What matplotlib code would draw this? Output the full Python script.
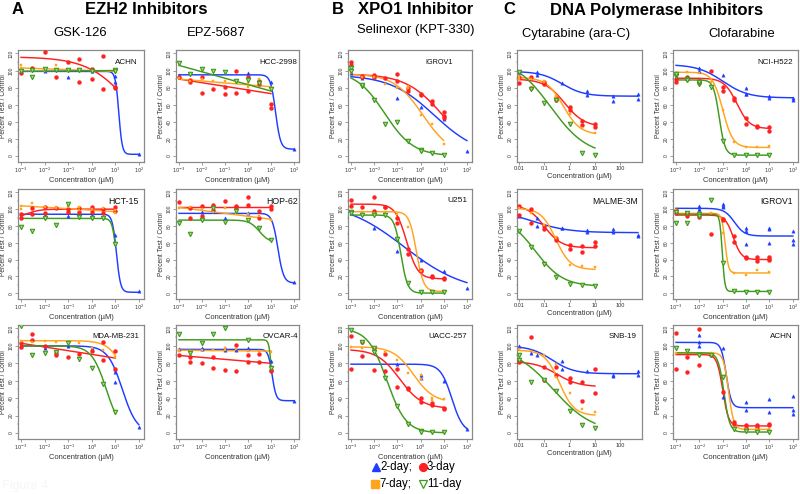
import numpy as np
import matplotlib
matplotlib.use("Agg")
import matplotlib.pyplot as plt
from matplotlib.ticker import FixedLocator, NullFormatter, LogLocator

plt.rcParams['font.family'] = ['Liberation Sans', 'DejaVu Sans']

SERIES = ['2d', '3d', '7d', '11d']
LEGEND_LABELS = ['2-day;', '3-day', '7-day;', '11-day']

# ---------------- data: points (concentration uM, percent test/control) ----------------
# fits: (top, bottom, logEC50, hill) for 4-parameter logistic, or (y_start, y_end) for a straight trend line
# Row 1
gsk_achn_pts = {
    '2d': [(1e-3, 99), (1e-2, 100), (1e-1, 92), (1, 100), (10, 94), (10, 87), (100, 2)],
    '3d': [(1e-3, 97), (3e-3, 103), (1e-2, 122), (3e-2, 92), (1e-1, 110), (3e-1, 113), (3e-1, 86),
           (1, 102), (1, 90), (3, 117), (3, 78), (10, 79), (10, 81)],
    '7d': [(1e-3, 106), (1e-3, 103), (3e-3, 100), (1e-2, 99), (3e-2, 106), (1e-1, 100), (3e-1, 101), (1, 99), (10, 98)],
    '11d': [(1e-3, 99), (3e-3, 93), (3e-3, 101), (1e-2, 102), (3e-2, 101), (1e-1, 101), (3e-1, 101), (1, 100), (10, 101), (10, 99)],
}
gsk_achn_fit = {'2d': (99, 2, 1.15, 6), '3d': (116, 0, 1.72, 0.48), '7d': (103, 99), '11d': (99, 100)}

epz_hcc2998_pts = {
    '2d': [(1e-3, 95), (1, 97), (10, 86), (100, 8)],
    '3d': [(1e-3, 93), (3e-3, 86), (3e-3, 89), (1e-2, 74), (1e-2, 93), (3e-2, 78), (1e-1, 72), (1e-1, 81),
           (3e-1, 74), (3e-1, 100), (1, 93), (1, 76), (3, 84), (3, 88), (10, 61), (10, 56)],
    '7d': [(1e-3, 91), (3e-3, 88), (1e-2, 90), (3e-2, 88), (1e-1, 88), (3e-1, 87), (1, 85), (1, 81), (3, 90), (10, 80)],
    '11d': [(1e-3, 109), (3e-3, 96), (1e-2, 102), (3e-2, 99), (1e-1, 98), (3e-1, 88), (1, 89), (3, 85), (10, 78)],
}
epz_hcc2998_fit = {'2d': (95, 8, 1.2, 4), '3d': (90, 73), '7d': (90, 81), '11d': (106, 76)}

sel_igrov1_pts = {
    '2d': [(1e-3, 97), (3e-3, 91), (1e-2, 92), (1e-1, 68), (1, 57), (10, 43), (100, 6)],
    '3d': [(1e-3, 110), (1e-3, 106), (3e-3, 94), (3e-3, 92), (1e-2, 93), (1e-2, 95), (3e-2, 91), (1e-1, 96), (1e-1, 88),
           (3e-1, 80), (3e-1, 76), (1, 73), (1, 71), (3, 64), (3, 61), (10, 51), (10, 47), (10, 44)],
    '7d': [(1e-3, 99), (1e-3, 97), (3e-3, 93), (1e-2, 92), (3e-2, 84), (1e-1, 80), (3e-1, 79), (3e-1, 82), (1, 48), (3, 37), (10, 14)],
    '11d': [(1e-3, 103), (1e-3, 99), (3e-3, 82), (3e-3, 83), (1e-2, 65), (3e-2, 38), (1e-1, 40), (3e-1, 18), (1, 7), (1, 6), (3, 3), (10, 1)],
}
sel_igrov1_fit = {'2d': (95, 0, 0.6, 0.45), '3d': (96, 0, 0.95, 0.55), '7d': (96, 0, 0.1, 0.7), '11d': (100, 0, -1.55, 0.7)}

cyt_h522_pts = {
    '2d': [(0.01, 98), (0.05, 95), (0.05, 98), (0.5, 85), (5, 76), (5, 71), (50, 70), (50, 64), (500, 73), (500, 67)],
    '3d': [(0.01, 93), (0.01, 85), (0.03, 92), (0.03, 79), (0.1, 86), (0.1, 84), (0.3, 66), (0.3, 68), (1, 57), (1, 54),
           (3, 41), (3, 36), (10, 38), (10, 34)],
    '7d': [(0.01, 92), (0.01, 90), (0.03, 90), (0.1, 88), (0.1, 86), (0.3, 70), (0.3, 69), (1, 49), (3, 33), (10, 27)],
    '11d': [(0.01, 98), (0.03, 78), (0.1, 62), (0.3, 65), (1, 37), (3, 4), (10, 1)],
}
cyt_h522_fit = {'2d': (99, 70, -0.3, 1.0), '3d': (90, 34, -0.2, 1.1), '7d': (92, 25, -0.25, 1.3), '11d': (115, 0, -0.75, 0.6)}

clo_h522_pts = {
    '2d': [(1e-2, 103), (1e-2, 99), (1e-1, 95), (1, 80), (1, 73), (1, 72), (10, 70), (10, 68), (100, 68), (100, 66)],
    '3d': [(1e-3, 86), (1e-3, 90), (3e-3, 90), (3e-3, 92), (1e-2, 85), (1e-2, 88), (3e-2, 99), (1e-1, 81), (1e-1, 76),
           (3e-1, 68), (3e-1, 66), (1, 44), (1, 37), (3, 34), (3, 35), (10, 34), (10, 29)],
    '7d': [(1e-3, 97), (3e-3, 98), (1e-2, 97), (3e-2, 87), (1e-1, 54), (3e-1, 16), (1, 11), (3, 11), (10, 12)],
    '11d': [(1e-3, 94), (1e-3, 96), (3e-3, 90), (3e-3, 89), (1e-2, 84), (1e-2, 86), (3e-2, 81), (1e-1, 18), (3e-1, 1),
            (1, 1), (3, 1), (10, 1)],
}
clo_h522_fit = {'2d': (107, 68, -1.0, 0.8), '3d': (91, 32, -0.4, 1.6), '7d': (98, 10, -1.0, 2.0), '11d': (89, 1, -1.15, 3.5)}

# Row 2
gsk_hct15_pts = {
    '2d': [(1e-3, 94), (1e-2, 93), (1e-1, 92), (1, 93), (10, 69), (100, 2)],
    '3d': [(1e-3, 94), (1e-3, 90), (3e-3, 101), (3e-3, 94), (1e-2, 102), (1e-2, 95), (3e-2, 101), (1e-1, 100), (1e-1, 97),
           (3e-1, 101), (3e-1, 97), (1, 103), (1, 97), (3, 100), (3, 96), (10, 103), (10, 98)],
    '7d': [(1e-3, 104), (1e-3, 100), (3e-3, 107), (1e-2, 103), (3e-2, 103), (3e-2, 101), (1e-1, 102), (3e-1, 103),
           (3e-1, 99), (1, 100), (3, 101), (10, 95), (10, 99)],
    '11d': [(1e-3, 79), (3e-3, 74), (1e-2, 90), (3e-2, 81), (1e-1, 106), (3e-1, 91), (1, 90), (3, 89), (10, 58)],
}
gsk_hct15_fit = {'2d': (94, 1, 1.05, 5), '3d': (88, 100, -2.8, 1.5), '7d': (104, 97), '11d': (89, 0, 1.05, 5)}

epz_hop62_pts = {
    '2d': [(1e-2, 97), (1e-1, 90), (1, 96), (100, 13)],
    '3d': [(1e-3, 108), (3e-3, 101), (3e-3, 90), (1e-2, 104), (1e-2, 92), (3e-2, 105), (3e-2, 99), (1e-1, 110),
           (3e-1, 103), (3e-1, 104), (1, 115), (1, 105), (3, 98), (3, 90), (10, 104), (10, 100)],
    '7d': [(1e-3, 101), (3e-3, 102), (1e-2, 100), (3e-2, 97), (1e-1, 101), (3e-1, 96), (1, 94), (3, 92), (10, 87)],
    '11d': [(1e-3, 84), (3e-3, 71), (1e-2, 87), (3e-2, 101), (1e-1, 85), (3e-1, 98), (1, 87), (3, 77), (10, 63)],
}
epz_hop62_fit = {'2d': (95, 12, 1.3, 3.5), '3d': (102.5, 102.5), '7d': (102, 88), '11d': (87, 60, 0.5, 2)}

sel_u251_pts = {
    '2d': [(1e-3, 95), (1e-2, 78), (1e-1, 50), (1, 40), (10, 26), (100, 6)],
    '3d': [(1e-3, 111), (1e-3, 104), (3e-3, 102), (1e-2, 114), (1e-2, 98), (3e-2, 103), (3e-2, 102), (1e-1, 89), (1e-1, 84),
           (3e-1, 53), (3e-1, 47), (1, 27), (1, 26), (3, 20), (3, 19), (10, 18), (10, 17)],
    '7d': [(1e-3, 97), (3e-3, 97), (1e-2, 96), (3e-2, 97), (1e-1, 94), (3e-1, 79), (1, 26), (3, 3), (10, 3)],
    '11d': [(1e-3, 97), (1e-3, 95), (3e-3, 93), (1e-2, 93), (3e-2, 93), (1e-1, 65), (3e-1, 12), (1, 1), (3, 1), (10, 1)],
}
sel_u251_fit = {'2d': (110, 0, -0.7, 0.33), '3d': (106, 17, -0.6, 1.8), '7d': (97, 2, -0.18, 2.8), '11d': (93, 0, -0.85, 3)}

cyt_malme_pts = {
    '2d': [(0.01, 92), (0.05, 80), (0.05, 90), (0.5, 77), (0.5, 78), (5, 75), (5, 73), (50, 76), (50, 73), (500, 69), (500, 68)],
    '3d': [(0.01, 104), (0.01, 93), (0.03, 100), (0.03, 84), (0.1, 76), (0.1, 80), (0.3, 66), (0.3, 63), (1, 57), (1, 52),
           (3, 56), (3, 49), (10, 61), (10, 56)],
    '7d': [(0.01, 101), (0.03, 95), (0.1, 81), (0.3, 67), (0.3, 66), (1, 33), (3, 32), (10, 31)],
    '11d': [(0.01, 74), (0.03, 55), (0.1, 35), (0.3, 19), (1, 11), (3, 10), (10, 9)],
}
cyt_malme_fit = {'2d': (100, 72, -1.5, 0.6), '3d': (105, 54, -1.0, 1.3), '7d': (101, 28, -0.55, 1.5), '11d': (92, 8, -1.35, 0.8)}

clo_igrov1_pts = {
    '2d': [(1e-3, 100), (1e-3, 97), (1e-2, 104), (1e-2, 100), (1e-2, 98), (1e-1, 106), (1e-1, 104), (1e-1, 102),
           (1, 78), (1, 74), (1, 58), (10, 78), (10, 76), (10, 60), (100, 74), (100, 63), (100, 59)],
    '3d': [(1e-3, 99), (1e-3, 95), (3e-3, 95), (3e-3, 92), (1e-2, 93), (1e-2, 91), (3e-2, 70), (1e-1, 88), (1e-1, 87),
           (3e-1, 68), (3e-1, 61), (1, 43), (1, 42), (3, 43), (3, 38), (10, 43), (10, 41), (10, 39)],
    '7d': [(1e-3, 99), (1e-2, 96), (3e-2, 96), (1e-1, 72), (3e-1, 24), (1, 22), (3, 27), (10, 25)],
    '11d': [(1e-3, 83), (1e-3, 97), (3e-3, 83), (3e-3, 95), (1e-2, 94), (1e-2, 92), (3e-2, 111), (1e-1, 36), (3e-1, 2),
            (1, 1), (3, 1), (10, 1)],
}
clo_igrov1_fit = {'2d': (101, 68, -0.5, 2), '3d': (93, 40, -0.55, 2.5), '7d': (95, 24, -0.9, 6), '11d': (94, 2, -1.02, 8)}

# Row 3
gsk_mda_pts = {
    '2d': [(1e-3, 100), (1e-2, 98), (1e-1, 100), (1, 97), (10, 73), (10, 70), (10, 59), (100, 7)],
    '3d': [(1e-3, 103), (1e-3, 99), (3e-3, 114), (3e-3, 107), (1e-2, 100), (3e-2, 89), (3e-2, 92), (1e-1, 87), (3e-1, 91),
           (1, 94), (3, 105), (3, 84), (10, 94), (10, 73)],
    '7d': [(1e-3, 106), (3e-3, 104), (1e-2, 106), (3e-2, 105), (1e-1, 104), (3e-1, 103), (1, 98), (3, 95), (10, 87)],
    '11d': [(1e-3, 123), (3e-3, 89), (1e-2, 92), (3e-2, 93), (1e-1, 103), (3e-1, 85), (1, 75), (3, 56), (10, 24)],
}
gsk_mda_fit = {'2d': (100, 0, 1.3, 1.4), '3d': (103, 86), '7d': (106, 0, 1.6, 1.2), '11d': (100, 0, 0.62, 1.4)}

epz_ovcar4_pts = {
    '2d': [(1e-3, 96), (1e-2, 96), (1e-2, 98), (1e-1, 95), (1e-1, 97), (3e-1, 95), (1, 97), (10, 83), (100, 37)],
    '3d': [(1e-3, 89), (3e-3, 87), (3e-3, 82), (1e-2, 80), (3e-2, 87), (3e-2, 75), (1e-1, 72), (3e-1, 71), (3e-1, 101),
           (1, 90), (1, 82), (3, 91), (3, 82), (10, 71), (10, 72)],
    '7d': [(1e-3, 95), (1e-3, 94), (3e-3, 94), (1e-2, 95), (3e-2, 95), (1e-1, 95), (1e-1, 97), (3e-1, 96), (1, 94), (3, 94), (10, 93)],
    '11d': [(1e-3, 114), (3e-3, 92), (1e-2, 103), (3e-2, 114), (1e-1, 121), (1, 107), (10, 75)],
}
epz_ovcar4_fit = {'2d': (96, 37, 1.05, 5), '3d': (89, 80), '7d': (95, 94), '11d': (107, 0, 1.05, 8)}

sel_uacc257_pts = {
    '2d': [(1e-1, 79), (1, 67), (1, 63), (10, 60), (100, 5)],
    '3d': [(1e-3, 111), (1e-3, 73), (3e-3, 104), (3e-3, 88), (1e-2, 98), (1e-2, 72), (3e-2, 91), (3e-2, 71), (1e-1, 73),
           (1e-1, 53), (3e-1, 52), (3e-1, 51), (1, 40), (1, 35), (3, 34), (3, 32), (10, 29), (10, 28)],
    '7d': [(1e-3, 99), (3e-3, 98), (1e-2, 98), (3e-2, 93), (1e-1, 84), (3e-1, 69), (1, 67), (1, 62), (3, 40), (3, 38), (10, 39)],
    '11d': [(1e-3, 118), (3e-3, 105), (1e-2, 98), (1e-2, 93), (3e-2, 63), (1e-1, 31), (3e-1, 10), (1, 2), (1, 1), (3, 1), (10, 1)],
}
sel_uacc257_fit = {'2d': (79, 0, 1.35, 1.8), '3d': (96, 28, -0.9, 0.9), '7d': (99, 35, -0.3, 1.0), '11d': (120, 0, -1.45, 1.05)}

cyt_snb19_pts = {
    '2d': [(0.01, 100), (0.03, 92), (0.05, 90), (0.5, 83), (0.5, 73), (5, 71), (50, 67), (50, 65), (500, 71), (500, 67)],
    '3d': [(0.01, 83), (0.01, 81), (0.03, 110), (0.1, 76), (0.1, 61), (0.3, 76), (0.3, 67), (1, 63), (1, 59), (3, 59),
           (3, 37), (10, 73), (10, 46)],
    '7d': [(0.01, 96), (0.03, 94), (0.1, 89), (0.3, 79), (0.3, 64), (1, 46), (3, 28), (10, 24)],
    '11d': [(0.01, 89), (0.01, 84), (0.03, 59), (0.1, 61), (0.3, 48), (1, 25), (3, 9), (10, 6)],
}
cyt_snb19_fit = {'2d': (100, 68, -0.7, 1.0), '3d': (82, 53, -0.5, 1.0), '7d': (95, 20, -0.4, 1.5), '11d': (100, 0, -0.65, 0.55)}

clo_achn_pts = {
    '2d': [(1e-2, 112), (1e-2, 104), (1e-2, 100), (1e-1, 97), (1e-1, 41), (1, 35), (1, 26), (10, 39), (10, 24),
           (100, 42), (100, 26), (100, 22)],
    '3d': [(1e-3, 115), (1e-3, 73), (3e-3, 87), (3e-3, 70), (1e-2, 119), (1e-2, 78), (3e-2, 90), (1e-1, 47), (3e-1, 12),
           (3e-1, 10), (1, 9), (1, 6), (3, 9), (3, 7), (10, 10), (10, 9)],
    '7d': [(1e-3, 92), (3e-3, 93), (1e-2, 90), (3e-2, 92), (3e-2, 90), (1e-1, 65), (3e-1, 6), (1, 5), (3, 4), (10, 4)],
    '11d': [(1e-3, 98), (3e-3, 94), (1e-2, 90), (3e-2, 89), (1e-1, 64), (3e-1, 4), (1, 2), (3, 1), (10, 1)],
}
clo_achn_fit = {'2d': (104, 29, -0.85, 4), '3d': (90, 8, -1.0, 3.5), '7d': (92, 4, -0.75, 4), '11d': (92, 1, -0.95, 3.5)}

# concentration range covered by each curve (log10 start, log10 end)
RANGE_STD = {'2d': (-3, 2), '3d': (-3, 1), '7d': (-3, 1), '11d': (-3, 1)}
RANGE_CYT = {'2d': (-2, 2.7), '3d': (-2.07, 1), '7d': (-2.07, 1), '11d': (-2.07, 1)}

STD_TICKS = [1e-3, 1e-2, 1e-1, 1e0, 1e1, 1e2]
STD_TICKLABELS = [r'$10^{-3}$', r'$10^{-2}$', r'$10^{-1}$', r'$10^{0}$', r'$10^{1}$', r'$10^{2}$']
CYT_TICKS = [0.01, 0.1, 1, 10, 100]
CYT_TICKLABELS = ['0.01', '0.1', '1', '10', '100']
Y_TICKS = [0, 20, 40, 60, 80, 100, 120]

# panel layout: (points, fits, cell line label, label size, label right inset px, kind)
PANELS = [
    [(gsk_achn_pts, gsk_achn_fit, 'ACHN', 5.8, 6, 'std'),
     (epz_hcc2998_pts, epz_hcc2998_fit, 'HCC-2998', 5.8, 2, 'std'),
     (sel_igrov1_pts, sel_igrov1_fit, 'IGROV1', 5.2, 19, 'std'),
     (cyt_h522_pts, cyt_h522_fit, '', 5.8, 5, 'cyt'),
     (clo_h522_pts, clo_h522_fit, 'NCI-H522', 5.8, 5, 'std')],
    [(gsk_hct15_pts, gsk_hct15_fit, 'HCT-15', 6.3, 5, 'std'),
     (epz_hop62_pts, epz_hop62_fit, 'HOP-62', 6.3, 1, 'std'),
     (sel_u251_pts, sel_u251_fit, 'U251', 6.0, 4, 'std'),
     (cyt_malme_pts, cyt_malme_fit, 'MALME-3M', 6.2, 4, 'cyt'),
     (clo_igrov1_pts, clo_igrov1_fit, 'IGROV1', 6.2, 5, 'std')],
    [(gsk_mda_pts, gsk_mda_fit, 'MDA-MB-231', 5.6, 5, 'std'),
     (epz_ovcar4_pts, epz_ovcar4_fit, 'OVCAR-4', 5.8, 1, 'std'),
     (sel_uacc257_pts, sel_uacc257_fit, 'UACC-257', 5.8, 5, 'std'),
     (cyt_snb19_pts, cyt_snb19_fit, 'SNB-19', 5.8, 5, 'cyt'),
     (clo_achn_pts, clo_achn_fit, 'ACHN', 5.8, 5, 'std')],
]

# ---------------- styles / geometry ----------------
COLORS = {'2d': '#1f3dff', '3d': '#ff2020', '7d': '#ffa41c', '11d': '#3f9a1e'}
MARKERS = {'2d': dict(marker='^', ms=2.4, mfc='#1f3dff', mec='#1f3dff', mew=0.3),
           '3d': dict(marker='o', ms=2.8, mfc='#ff2020', mec='#ff2020', mew=0.3),
           '7d': dict(marker='s', ms=2.0, mfc='#ffa41c', mec='#ffa41c', mew=0.3),
           '11d': dict(marker='v', ms=3.2, mfc='#a9d68f', mec='#3f9a1e', mew=0.8)}
COLS = [(18, 144), (176, 299), (348, 472), (517, 642), (673, 798)]
ROWS = [(50, 162), (189, 299), (325, 439)]
W, H = 800, 494


def logistic(lx, p):
    top, bottom, c, h = p
    return bottom + (top - bottom) / (1 + 10 ** (h * (lx - c)))


fig = plt.figure(figsize=(8, 4.94), dpi=100)

for r, row in enumerate(PANELS):
    for c, (pts, fits, label, lsize, linset, kind) in enumerate(row):
        (l, rr), (t, b) = COLS[c], ROWS[r]
        ax = fig.add_axes([l / W, 1 - b / H, (rr - l) / W, (b - t) / H])
        ax.set_xscale('log')
        rng = RANGE_STD if kind == 'std' else RANGE_CYT
        for s in SERIES:
            x0, x1 = rng[s]
            p = fits[s]
            if len(p) == 2:
                ax.plot([10 ** x0, 10 ** x1], [p[0], p[1]], color=COLORS[s], lw=1.05, zorder=2)
            else:
                lx = np.linspace(x0, x1, 300)
                ax.plot(10 ** lx, logistic(lx, p), color=COLORS[s], lw=1.05, zorder=2)
        for s in SERIES:
            xs = [q[0] for q in pts[s]]
            ys = [q[1] for q in pts[s]]
            ax.plot(xs, ys, ls='none', zorder=3, **MARKERS[s])
        if kind == 'std':
            ax.set_xlim(10 ** -3.13, 10 ** 2.22)
            ax.set_xticks(STD_TICKS)
            ax.set_xticklabels(STD_TICKLABELS)
        else:
            ax.set_xlim(10 ** -2.08, 10 ** 2.86)
            ax.set_xticks(CYT_TICKS)
            ax.set_xticklabels(CYT_TICKLABELS)
        ax.xaxis.set_minor_locator(LogLocator(base=10, subs=np.arange(2, 10), numticks=20))
        ax.xaxis.set_minor_formatter(NullFormatter())
        ax.set_ylim(-7, 124)
        ax.set_yticks(Y_TICKS)
        ax.yaxis.set_minor_locator(FixedLocator(np.arange(0, 121, 10)))
        ax.tick_params(which='major', length=2, width=0.4, pad=1, labelsize=3.6 if kind == 'std' else 4.0,
                       colors='#555555', labelcolor='#333333')
        ax.tick_params(axis='y', which='major', labelsize=3.6, labelrotation=90)
        ax.tick_params(which='minor', length=1, width=0.3, colors='#555555')
        for lb in ax.get_yticklabels():
            lb.set_va('center')
        for sp in ax.spines.values():
            sp.set_color('#8a8a8a')
            sp.set_linewidth(0.9)
        ax.set_ylabel('Percent Test / Control', fontsize=4.8, labelpad=1.5, color='#333333')
        ax.set_xlabel('Concentration (µM)', fontsize=5.4, labelpad=1.2, color='#333333')
        if label:
            ax.text(1 - linset / (rr - l), 1 - 12 / (b - t), label, transform=ax.transAxes,
                    ha='right', va='center', fontsize=lsize, color='#111111')

# ---------------- titles ----------------
def ftext(x, y, s, **kw):
    fig.text(x / W, 1 - y / H, s, **kw)

ftext(18, 10, 'A', fontsize=12, fontweight='bold', ha='center', va='center')
ftext(146, 10, 'EZH2 Inhibitors', fontsize=12, fontweight='bold', ha='center', va='center')
ftext(80, 33, 'GSK-126', fontsize=9.4, ha='center', va='center')
ftext(216, 33, 'EPZ-5687', fontsize=9.4, ha='center', va='center')
ftext(338, 10, 'B', fontsize=12, fontweight='bold', ha='center', va='center')
ftext(416, 10, 'XPO1 Inhibitor', fontsize=12, fontweight='bold', ha='center', va='center')
ftext(416, 30, 'Selinexor (KPT-330)', fontsize=9.4, ha='center', va='center')
ftext(509, 10, 'C', fontsize=12, fontweight='bold', ha='center', va='center')
ftext(657, 10, 'DNA Polymerase Inhibitors', fontsize=12, fontweight='bold', ha='center', va='center')
ftext(576, 34, 'Cytarabine (ara-C)', fontsize=9.4, ha='center', va='center')
ftext(742, 34, 'Clofarabine', fontsize=9.4, ha='center', va='center')
ftext(2, 486, 'Figure 4', fontsize=9, color='#f6f6f6', ha='left', va='center')

# ---------------- legend ----------------
lax = fig.add_axes([0, 0, 1, 1], facecolor='none')
lax.set_xlim(0, W)
lax.set_ylim(H, 0)
lax.axis('off')
leg_pos = [(376, 467), (422.5, 467), (375, 484), (422.5, 484)]
leg_mk = {'2d': dict(marker='^', ms=5.8, mfc='#1f3dff', mec='#1f3dff'),
          '3d': dict(marker='o', ms=5.6, mfc='#ff2020', mec='#ff2020'),
          '7d': dict(marker='s', ms=5.2, mfc='#ffa41c', mec='#ffa41c'),
          '11d': dict(marker='v', ms=6.0, mfc='white', mec='#3f9a1e', mew=0.9)}
for s, lab, (px, py) in zip(SERIES, LEGEND_LABELS, leg_pos):
    lax.plot([px], [py], ls='none', **leg_mk[s])
    lax.text(px + 4.3, py, lab, fontsize=8.3, ha='left', va='center')

fig.savefig('out.png', dpi=100)
